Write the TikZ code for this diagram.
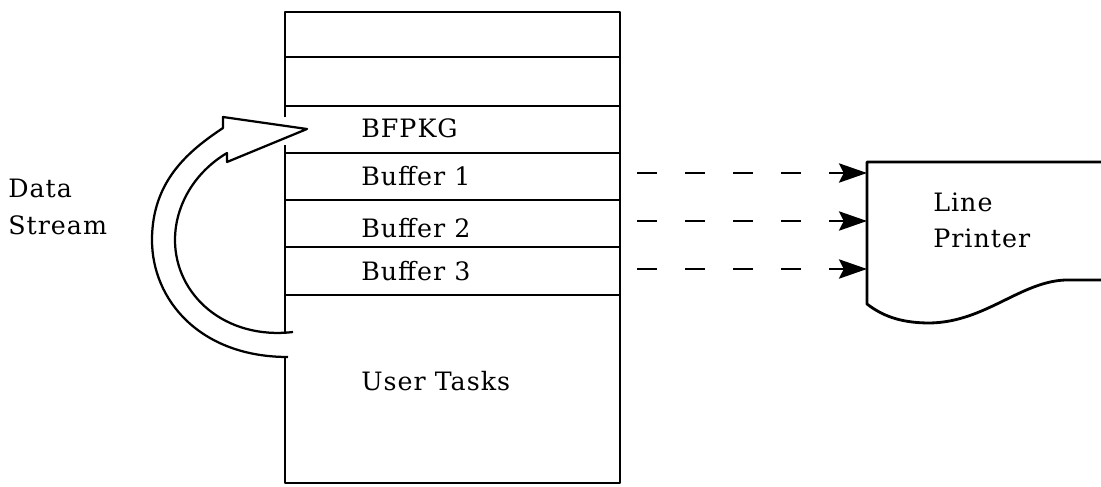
\documentclass[tikz,border=0pt]{standalone}
\usepackage{fontspec}
\setmainfont{DejaVu Serif}[LetterSpace=4]
\usetikzlibrary{arrows.meta, positioning}

\begin{document}
\begin{tikzpicture}[x=0.025cm, y=-0.025cm, line join=round,
    lbl/.style={anchor=base west, inner sep=0pt, font=\fontsize{18}{21}\selectfont},
    boxline/.style={line width=1.8pt},
    dataflow/.style={line width=2pt, dash pattern=on 0.5cm off 0.7cm,
      -{Stealth[length=0.7cm, width=0.48cm, inset=0.12cm]}}]
        \useasboundingbox (0,0) rectangle (1101,487);

        % memory box
        \draw[boxline] (285,117) -- (285,12) -- (620,12) -- (620,483) -- (285,483) -- (285,357);
        \draw[boxline] (285,145) -- (285,332);
        \foreach \y in {57,106,153,200,247,295}
          \draw[boxline] (285,\y) -- (620,\y);

        \node[lbl] (bfpkg) at (361,137) {BFPKG};
        \node[lbl] (buf1) at (361,185) {Buffer 1};
        \node[lbl] (buf2) at (361,237) {Buffer 2};
        \node[lbl] (buf3) at (361,280) {Buffer 3};
        \node[lbl] (tasks) at (361,390) {User Tasks};

        % data stream arrow
        \draw[line width=1.6pt] (288,357) .. controls (200,357) and (152,300) .. (152,240)
          .. controls (152,180) and (190,150) .. (223,128) -- (223,117) -- (307,129)
          -- (227,162) -- (227,153) .. controls (195,172) and (175,205) .. (175,240)
          .. controls (175,295) and (225,340) .. (293,332);
        \node[lbl] (data) at (8,197) {Data};
        \node[lbl] (stream) at (8,234) {Stream};

        % line printer
        \draw[line width=2pt] (1101,162) -- (867,162) -- (867,304)
          .. controls (885,318) and (905,323) .. (930,323)
          .. controls (985,322) and (1020,282) .. (1065,280) -- (1101,280);
        \node[lbl] (line) at (933,211) {Line};
        \node[lbl] (printer) at (933,247) {Printer};

        % buffers to printer
        \foreach \i/\y in {1/173, 2/221, 3/269} {
          \coordinate (s\i) at (637,\y);
          \coordinate (t\i) at (867,\y);
          \draw[dataflow] (s\i) -- (t\i);
        }
      \end{tikzpicture}
\end{document}
